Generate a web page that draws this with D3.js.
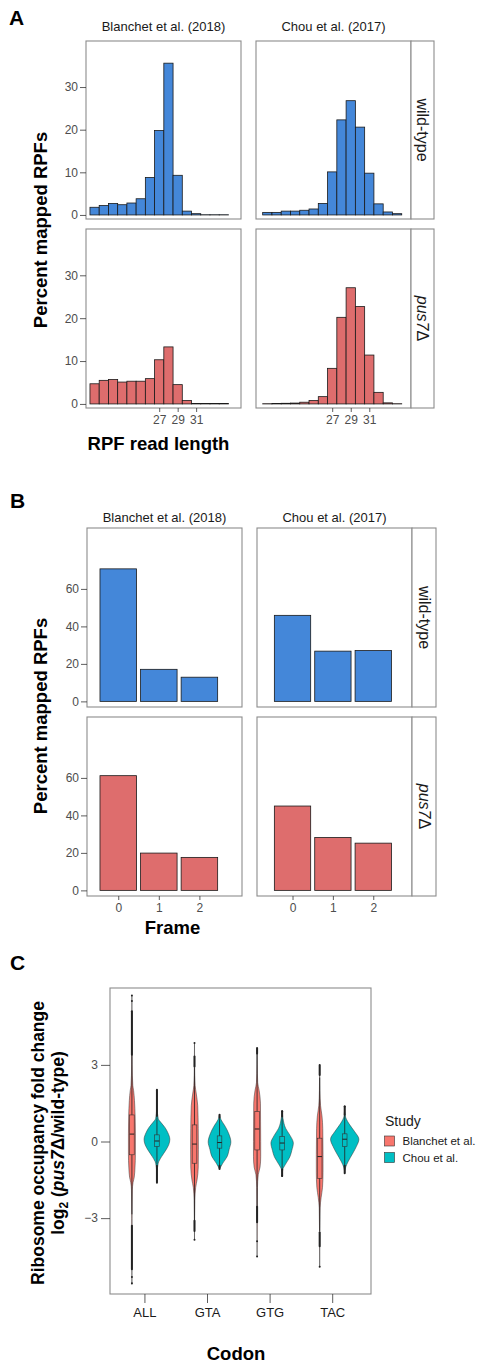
<!DOCTYPE html>
<html>
<head>
<meta charset="utf-8">
<script src="https://cdn.jsdelivr.net/npm/d3@7"></script>
<style>
body { margin: 0; background: #fff; }
</style>
</head>
<body>
<div id="chart"></div>
<script>
const FONT = '"Liberation Sans", Arial, Helvetica, sans-serif';

// ---- data: panel A, read length histograms (percent mapped RPFs)
const readLengths = [20, 21, 22, 23, 24, 25, 26, 27, 28, 29, 30, 31, 32, 33, 34];
const lenBlanchetWT = [1.8, 2.2, 2.7, 2.4, 2.8, 3.8, 8.8, 19.8, 35.6, 9.3, 0.9, 0.3, 0.05, 0.05, 0.05];
const lenChouWT = [0.6, 0.6, 0.9, 0.9, 1.1, 1.4, 2.7, 10.1, 22.3, 26.8, 20.6, 9.8, 2.6, 0.7, 0.3];
const lenBlanchetPus7 = [4.7, 5.5, 5.7, 5.1, 5.3, 5.3, 5.9, 10.3, 13.3, 4.5, 0.8, 0.1, 0.1, 0.1, 0.1];
const lenChouPus7 = [0.05, 0.1, 0.15, 0.2, 0.4, 0.8, 1.7, 8.3, 20.2, 27.1, 22.7, 11.4, 2.7, 0.25, 0.05];
const lenYTicks = [0, 10, 20, 30];
const lenXTicks = [27, 29, 31];

// ---- data: panel B, reading frame
const frames = [0, 1, 2];
const frameBlanchetWT = [70.7, 17.1, 12.9];
const frameChouWT = [45.9, 26.8, 27.1];
const frameBlanchetPus7 = [61.2, 19.9, 17.6];
const frameChouPus7 = [45.0, 28.2, 25.2];
const frameYTicks = [0, 20, 40, 60];

const studyTitles = ["Blanchet et al. (2018)", "Chou et al. (2017)"];

// ---- data: panel C, violins  (profile = [log2 FC, relative density])
const codons = ["ALL", "GTA", "GTG", "TAC"];
const studies = ["Blanchet et al.", "Chou et al."];
const occYTicks = [-3, 0, 3];

const blanchetProfiles = [
  [[5.7, 0], [4.0, 0.01], [3.0, 0.02], [2.2, 0.07], [2.0, 0.13], [1.6, 0.2], [1.0, 0.25], [0.3, 0.27], [-0.5, 0.27], [-1.0, 0.24], [-1.4, 0.18], [-1.6, 0.09], [-1.9, 0.035], [-3.0, 0.012], [-5.6, 0]],
  [[3.85, 0], [3.0, 0.01], [2.2, 0.05], [1.9, 0.13], [1.4, 0.25], [0.5, 0.29], [-0.3, 0.3], [-1.0, 0.29], [-1.5, 0.2], [-1.8, 0.09], [-2.3, 0.03], [-3.0, 0.012], [-3.85, 0]],
  [[3.65, 0], [3.0, 0.01], [2.3, 0.05], [2.0, 0.16], [1.5, 0.26], [0.8, 0.27], [0.0, 0.28], [-0.6, 0.28], [-1.0, 0.23], [-1.3, 0.09], [-1.8, 0.03], [-3.0, 0.012], [-4.5, 0]],
  [[3.0, 0], [2.0, 0.02], [1.4, 0.07], [1.0, 0.18], [0.5, 0.24], [-0.5, 0.26], [-1.2, 0.26], [-1.8, 0.22], [-2.2, 0.11], [-2.6, 0.035], [-3.5, 0.012], [-4.9, 0]]
];
const chouProfiles = [
  [[2.0, 0], [1.3, 0.02], [0.9, 0.1], [0.75, 0.3], [0.55, 0.62], [0.35, 0.84], [0.08, 1.0], [-0.12, 0.92], [-0.33, 0.7], [-0.6, 0.35], [-0.85, 0.1], [-1.2, 0.02], [-1.65, 0]],
  [[1.05, 0], [0.85, 0.12], [0.6, 0.43], [0.3, 0.72], [-0.02, 0.88], [-0.3, 0.75], [-0.6, 0.58], [-0.85, 0.25], [-1.08, 0]],
  [[1.18, 0], [0.9, 0.07], [0.52, 0.27], [0.25, 0.6], [-0.06, 0.87], [-0.35, 0.75], [-0.6, 0.6], [-0.9, 0.25], [-1.1, 0.05], [-1.35, 0]],
  [[1.37, 0], [1.0, 0.05], [0.72, 0.3], [0.4, 0.75], [0.09, 1.1], [-0.2, 0.9], [-0.45, 0.64], [-0.8, 0.25], [-1.0, 0.08], [-1.24, 0]]
];
// [lower whisker, q1, median, q3, upper whisker]
const blanchetBoxes = [[-2.85, -0.52, 0.29, 1.04, 3.38], [-3.1, -0.85, -0.1, 0.65, 2.9], [-2.6, -0.33, 0.49, 1.18, 3.45], [-3.5, -1.44, -0.59, 0.13, 2.5]];
const chouBoxes = [[-0.9, -0.2, 0.02, 0.26, 0.95], [-0.95, -0.26, -0.04, 0.22, 0.92], [-1.1, -0.33, -0.06, 0.2, 0.95], [-0.95, -0.2, 0.09, 0.3, 1.05]];
// outliers: dense runs [from, to] and single points
const blanchetOutRuns = [[[3.4, 5.1], [-5.0, -3.3]], [[2.94, 3.33], [-3.5, -3.1]], [[3.45, 3.66], [-3.16, -2.55]], [[2.6, 3.0], [-4.1, -3.56]]];
const blanchetOutPts = [[5.5, 5.72, -5.3, -5.55], [3.86, -3.85], [-3.9, -4.5], [-4.9]];
const chouOutRuns = [[[1.0, 2.0], [-1.6, -0.95]], [[0.95, 1.05], [-1.08, -0.95]], [[0.98, 1.18], [-1.35, -1.1]], [[1.05, 1.37], [-1.24, -0.95]]];
const chouOutPts = [[2.03], [], [1.18, -1.35], [1.37]];

// ---- colours
const blue = "#4487d9", red = "#de6d6d";
const studyColor = ["#f8766d", "#00bfc4"];
const border = "#8c8c8c";

const svg = d3.select("#chart").append("svg")
  .attr("width", 488).attr("height", 1364)
  .style("font-family", FONT);

function styleAxis(ax, size, color) {
  ax.attr("font-family", FONT).attr("font-size", size);
  ax.select(".domain").remove();
  ax.selectAll(".tick line").attr("stroke", "#333").attr("stroke-width", 0.8);
  ax.selectAll(".tick text").attr("fill", color || "#4d4d4d");
}

function rightStrip(x0, x1, y0, y1, kind) {
  svg.append("rect").attr("x", x0).attr("y", y0).attr("width", x1 - x0).attr("height", y1 - y0)
    .attr("fill", "#fff").attr("stroke", border).attr("stroke-width", 1.1);
  const t = svg.append("text")
    .attr("transform", `translate(${(x0 + x1) / 2 - 5.5},${(y0 + y1) / 2}) rotate(90)`)
    .attr("text-anchor", "middle").attr("font-size", 16).attr("fill", "#1a1a1a");
  if (kind === 0) t.text("wild-type");
  else {
    t.append("tspan").attr("font-style", "italic").text("pus7");
    t.append("tspan").text("Δ");
  }
}

function panelLabel(txt, x, y) {
  svg.append("text").attr("x", x).attr("y", y).attr("font-size", 21).attr("font-weight", "bold").text(txt);
}

function yTitle(txt, x, y) {
  svg.append("text").attr("transform", `translate(${x},${y}) rotate(-90)`)
    .attr("text-anchor", "middle").attr("font-size", 18.5).attr("font-weight", "bold").text(txt);
}

function xTitle(txt, x, y) {
  svg.append("text").attr("x", x).attr("y", y).attr("text-anchor", "middle")
    .attr("font-size", 18.5).attr("font-weight", "bold").text(txt);
}

// generic faceted bar grid (panels A and B)
function facetGrid(cfg) {
  cfg.cols.forEach((col, c) => {
    svg.append("text").attr("x", (col.x0 + col.x1) / 2).attr("y", cfg.titleY)
      .attr("text-anchor", "middle").attr("font-size", 13).attr("fill", "#1a1a1a")
      .text(studyTitles[c]);
  });
  cfg.rows.forEach((row, r) => {
    cfg.cols.forEach((col, c) => {
      const x = d3.scaleLinear().domain(col.dom).range([col.x0, col.x1]);
      const y = d3.scaleLinear().domain(cfg.yDom).range([row.y1, row.y0]);
      const vals = cfg.data[r][c];
      svg.append("g").selectAll("rect").data(cfg.cats)
        .join("rect")
        .attr("x", (d) => x(d - cfg.barW / 2))
        .attr("width", (d) => x(d + cfg.barW / 2) - x(d - cfg.barW / 2))
        .attr("y", (d, i) => y(vals[i]))
        .attr("height", (d, i) => y(0) - y(vals[i]))
        .attr("fill", r === 0 ? blue : red)
        .attr("stroke", "#1a1a1a").attr("stroke-width", 0.8);
      svg.append("rect").attr("x", col.x0).attr("y", row.y0)
        .attr("width", col.x1 - col.x0).attr("height", row.y1 - row.y0)
        .attr("fill", "none").attr("stroke", border).attr("stroke-width", 1.1);
      if (c === 0) {
        const ax = svg.append("g").attr("transform", `translate(${col.x0},0)`)
          .call(d3.axisLeft(y).tickValues(cfg.yTicks).tickSize(cfg.yTickLen).tickPadding(2));
        styleAxis(ax, 12);
      }
      if (r === cfg.rows.length - 1) {
        const ax = svg.append("g").attr("transform", `translate(0,${row.y1})`)
          .call(d3.axisBottom(x).tickValues(cfg.xTicks).tickFormat(d3.format("d")).tickSize(4).tickPadding(3));
        styleAxis(ax, 12);
      }
      if (c === cfg.cols.length - 1) rightStrip(col.x1, col.x1 + cfg.stripW, row.y0, row.y1, r);
    });
  });
}

// ---------- Panel A
panelLabel("A", 9, 25);
facetGrid({
  cols: [{ x0: 86, x1: 241, dom: [19.07, 35.86] }, { x0: 256, x1: 411, dom: [18.78, 35.5] }],
  rows: [{ y0: 41, y1: 219 }, { y0: 229, y1: 408 }],
  data: [[lenBlanchetWT, lenChouWT], [lenBlanchetPus7, lenChouPus7]],
  cats: readLengths, barW: 1, yDom: [-0.95, 40.8],
  yTicks: lenYTicks, xTicks: lenXTicks, yTickLen: 6,
  titleY: 31, stripW: 23
});
yTitle("Percent mapped RPFs", 47, 230);
xTitle("RPF read length", 158.5, 450);

// ---------- Panel B
panelLabel("B", 10, 508);
facetGrid({
  cols: [{ x0: 87, x1: 242, dom: [-0.77, 3.05] }, { x0: 257, x1: 412, dom: [-0.88, 2.96] }],
  rows: [{ y0: 528, y1: 707 }, { y0: 717, y1: 896 }],
  data: [[frameBlanchetWT, frameChouWT], [frameBlanchetPus7, frameChouPus7]],
  cats: frames, barW: 0.9, yDom: [-3, 92.5],
  yTicks: frameYTicks, xTicks: frames, yTickLen: 6,
  titleY: 522, stripW: 24
});
yTitle("Percent mapped RPFs", 47, 716);
xTitle("Frame", 172.5, 934);

// ---------- Panel C
panelLabel("C", 10, 970);
const cx0 = 110, cx1 = 371, cy0 = 988, cy1 = 1294;
const xC = d3.scaleLinear().domain([0.45, 4.62]).range([cx0, cx1]);
const yC = d3.scaleLinear().domain([-5.97, 6.01]).range([cy1, cy0]);
const wC = d3.scaleLinear().domain([0, 1]).range([0, 12.9]);
const dodge = [-0.2, 0.2];
const boxHalf = 2.3;

const profiles = [blanchetProfiles, chouProfiles];
const boxes = [blanchetBoxes, chouBoxes];
const outRuns = [blanchetOutRuns, chouOutRuns];
const outPts = [blanchetOutPts, chouOutPts];

const gC = svg.append("g");
codons.forEach((cod, i) => {
  studies.forEach((st, s) => {
    const cx = xC(i + 1 + dodge[s]);
    const area = d3.area()
      .y((d) => yC(d[0]))
      .x0((d) => cx - wC(d[1]))
      .x1((d) => cx + wC(d[1]))
      .curve(d3.curveMonotoneY);
    gC.append("path").datum(profiles[s][i]).attr("d", area)
      .attr("fill", studyColor[s]).attr("stroke", "#333").attr("stroke-width", 0.5);
    const b = boxes[s][i];
    gC.append("line").attr("x1", cx).attr("x2", cx).attr("y1", yC(b[0])).attr("y2", yC(b[4]))
      .attr("stroke", "#222").attr("stroke-width", 0.8);
    gC.append("rect").attr("x", cx - boxHalf).attr("width", boxHalf * 2)
      .attr("y", yC(b[3])).attr("height", yC(b[1]) - yC(b[3]))
      .attr("fill", studyColor[s]).attr("stroke", "#333").attr("stroke-width", 0.6);
    gC.append("line").attr("x1", cx - boxHalf).attr("x2", cx + boxHalf)
      .attr("y1", yC(b[2])).attr("y2", yC(b[2])).attr("stroke", "#222").attr("stroke-width", 1);
    outRuns[s][i].forEach((rn) => {
      gC.append("line").attr("x1", cx).attr("x2", cx).attr("y1", yC(rn[0])).attr("y2", yC(rn[1]))
        .attr("stroke", "#222").attr("stroke-width", 2).attr("stroke-linecap", "round");
    });
    gC.selectAll(null).data(outPts[s][i]).join("circle")
      .attr("cx", cx).attr("cy", (d) => yC(d)).attr("r", 1).attr("fill", "#222");
  });
});
svg.append("rect").attr("x", cx0).attr("y", cy0).attr("width", cx1 - cx0).attr("height", cy1 - cy0)
  .attr("fill", "none").attr("stroke", border).attr("stroke-width", 1.1);

const axYC = svg.append("g").attr("transform", `translate(${cx0},0)`)
  .call(d3.axisLeft(yC).tickValues(occYTicks).tickSize(9).tickPadding(3));
styleAxis(axYC, 12);
const axXC = svg.append("g").attr("transform", `translate(0,${cy1})`)
  .call(d3.axisBottom(d3.scaleOrdinal().domain(codons).range(codons.map((c, i) => xC(i + 1))))
    .tickSize(9).tickPadding(5));
styleAxis(axXC, 13, "#1a1a1a");

// y title for C (two lines)
svg.append("text").attr("transform", `translate(44,1143) rotate(-90)`)
  .attr("text-anchor", "middle").attr("font-size", 17.5).attr("font-weight", "bold")
  .text("Ribosome occupancy fold change");
const t2 = svg.append("text").attr("transform", `translate(64,1143) rotate(-90)`)
  .attr("text-anchor", "middle").attr("font-size", 17.5).attr("font-weight", "bold");
t2.append("tspan").text("log");
t2.append("tspan").attr("font-size", 12).attr("dy", 4).text("2");
t2.append("tspan").attr("dy", -4).text(" (");
t2.append("tspan").attr("font-style", "italic").text("pus7");
t2.append("tspan").text("Δ/wild-type)");
xTitle("Codon", 236, 1360);

// legend
const lg = svg.append("g").attr("transform", "translate(384,1113)");
lg.append("text").attr("x", 1).attr("y", 13).attr("font-size", 14).attr("fill", "#1a1a1a").text("Study");
studies.forEach((st, s) => {
  lg.append("rect").attr("x", 0.5).attr("y", 23 + s * 16.5).attr("width", 10).attr("height", 10)
    .attr("fill", studyColor[s]).attr("stroke", "#333").attr("stroke-width", 0.6);
  lg.append("text").attr("x", 18.5).attr("y", 32 + s * 16.5).attr("font-size", 11.5)
    .attr("fill", "#1a1a1a").text(st);
});
</script>
</body>
</html>
